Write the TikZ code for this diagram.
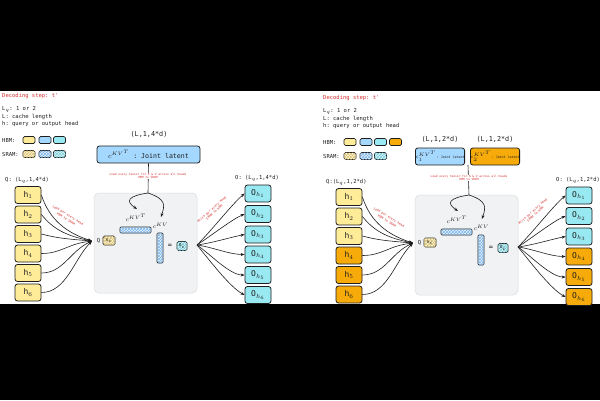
\documentclass[tikz,border=0pt]{standalone}
\usepackage{fontspec}
\setmonofont{DejaVu Sans Mono}
\usetikzlibrary{arrows.meta,patterns}
\definecolor{ink}{HTML}{1E1E1E}
\definecolor{myred}{HTML}{D62F2F}
\definecolor{cyel}{HTML}{FFEC99}
\definecolor{cblue}{HTML}{A5D8FF}
\definecolor{ccyan}{HTML}{99E9F2}
\definecolor{corange}{HTML}{F7AB0A}
\definecolor{cyeld}{HTML}{D9C27A}
\definecolor{cblued}{HTML}{7FB2E5}
\definecolor{ccyand}{HTML}{7CCAD6}
\definecolor{cgray}{HTML}{F1F2F3}
\definecolor{cgrayd}{HTML}{DADCDE}
\tikzset{
 txt/.style={font=\ttfamily\fontsize{5.5}{6.5}\selectfont, text=ink, inner sep=0pt, anchor=west},
 redtxt/.style={txt, text=myred},
 rtiny/.style={font=\ttfamily\fontsize{2.9}{3.5}\selectfont, text=myred, align=center, inner sep=0.6pt},
 hbox/.style={draw=ink, line width=0.8pt, rounded corners=2.5pt, minimum width=26pt, minimum height=17pt, inner sep=0pt, font=\ttfamily\fontsize{8}{8}\selectfont, text=ink},
 leg/.style={draw=ink, line width=0.7pt, rounded corners=1.5pt, minimum width=12pt, minimum height=7pt, inner sep=0pt},
 hatch/.style={postaction={pattern=crosshatch, pattern color=#1}},
 barst/.style={draw=ink, line width=0.7pt, rounded corners=1.2pt, fill=cblue!25, hatch=cblued, inner sep=0pt},
 graybox/.style={fill=cgray, draw=cgrayd, line width=0.5pt, rounded corners=5pt, minimum width=103pt, minimum height=100pt, inner sep=0pt},
 con/.style={draw=ink, line width=0.6pt, -{Stealth[length=4pt,width=3pt]}},
 mlab/.style={font=\fontsize{6}{6}\selectfont, text=ink, inner sep=0pt},
}
\newcommand\panelcore[5]{%
 \node[graybox] (#1gray) at (145.5,243) {};
 \coordinate (#1split) at (148,193);
 \coordinate (#1ta) at (137,209);
 \coordinate (#1tb) at (161,217);
 \draw[con] (#1split) .. controls +(-20,3) and +(-12,-8) .. (#1ta);
 \draw[con] (#1split) .. controls +(18,6) and +(4,-12) .. (#1tb);
 \node[rtiny, fill=white] (#1load) at (148,176) {Load every tensor for K \& V across all heads\\HBM to SRAM};
 \node[barst, minimum width=31pt, minimum height=6pt] (#1bh) at (135.5,230) {};
 \node[barst, minimum width=6pt, minimum height=30pt] (#1bv) at (160,248) {};
 \node[mlab] (#1cla) at (136,218) {$c^{KV^T}$};
 \node[mlab] (#1clb) at (160.5,226) {$c^{KV}$};
 \node[txt, anchor=center] (#1Ql) at (98.5,240.5) {Q};
 \node[leg, minimum width=12pt, minimum height=9pt, fill=cyel!45, hatch=cyeld, font=\ttfamily\fontsize{4}{4}\selectfont] (#1Q) at (109,240.5) {h$_i$};
 \node[txt, anchor=center, font=\ttfamily\fontsize{7}{7}\selectfont] (#1eq) at (170,246) {=};
 \node[leg, minimum width=10pt, minimum height=9pt, fill=ccyan!35, hatch=ccyand, font=\ttfamily\fontsize{4}{4}\selectfont] (#1O) at (182,246) {O$_i$};
 \coordinate (#1qin) at (92,241);
 \coordinate (#1src) at (197,245);
 \node[txt] (#1qlab) at (5,180) {#4};
 \node[txt] (#1olab) at (235,178) {#5};
 \foreach \i/\y/\col in {1/195/cyel,2/214.5/cyel,3/234/cyel,4/253.5/#2,5/273/#2,6/292.5/#2}
   \node[hbox, fill=\col] (#1h\i) at (28,\y) {h$_{\i}$};
 \foreach \i/\y/\col in {1/193.5/ccyan,2/214/ccyan,3/234.5/ccyan,4/254.5/#3,5/275/#3,6/295/#3}
   \node[hbox, fill=\col] (#1o\i) at (258,\y) {O$_{h_{\i}}$};
 \draw[con] (#1h1.east) .. controls +(8,25) and +(-25,-8) .. (#1qin);
 \draw[con] (#1h2.east) .. controls +(12,15) and +(-25,-5) .. (#1qin);
 \draw[con] (#1h3.east) .. controls +(15,4) and +(-25,-2) .. (#1qin);
 \draw[con] (#1h4.east) .. controls +(20,0) and +(-25,3) .. (#1qin);
 \draw[con] (#1h5.east) .. controls +(22,0) and +(-22,10) .. (#1qin);
 \draw[con] (#1h6.east) .. controls +(25,0) and +(-18,18) .. (#1qin);
 \draw[con] (#1src) .. controls +(15,-15) and +(-12,10) .. (#1o1.west);
 \draw[con] (#1src) .. controls +(15,-10) and +(-12,5) .. (#1o2.west);
 \draw[con] (#1src) .. controls +(15,-2) and +(-15,3) .. (#1o3.west);
 \draw[con] (#1src) .. controls +(15,2) and +(-15,0) .. (#1o4.west);
 \draw[con] (#1src) .. controls +(12,8) and +(-15,0) .. (#1o5.west);
 \draw[con] (#1src) .. controls +(10,12) and +(-15,-8) .. (#1o6.west);
 \node[rtiny, rotate=-32, font=\ttfamily\fontsize{3.1}{3.7}\selectfont] (#1rl) at (67,217) {Load per every head\\HBM to SRAM};
 \node[rtiny, rotate=42, font=\ttfamily\fontsize{3.1}{3.7}\selectfont] (#1rr) at (213,211) {Write per every head\\SRAM to HBM};
}
\begin{document}
\begin{tikzpicture}[x=1pt,y=-1pt]
\useasboundingbox (0,0) rectangle (600,400);
\fill[black] (0,0) rectangle (600,400);
\fill[white] (0,91) rectangle (600,304);
% ---------- left panel ----------
\node[redtxt] (Lstep) at (2,96) {Decoding step: t'};
\node[txt] (La) at (2,109) {L$_q$: 1 or 2};
\node[txt] (Lb) at (2,116.5) {L: cache length};
\node[txt] (Lc) at (2,124) {h: query or output head};
\node[txt] (Lhbm) at (2,140) {HBM:};
\node[txt] (Lsram) at (2,154) {SRAM:};
\node[leg, fill=cyel] (Lhy) at (29,140) {};
\node[leg, fill=cblue] (Lhb) at (45,140) {};
\node[leg, fill=ccyan] (Lhc) at (59.5,140) {};
\node[leg, fill=cyel!45, hatch=cyeld] (Lsy) at (29,154) {};
\node[leg, fill=cblue!30, hatch=cblued] (Lsb) at (45,154) {};
\node[leg, fill=ccyan!35, hatch=ccyand] (Lsc) at (59.5,154) {};
\node[txt, anchor=center, font=\ttfamily\fontsize{6.8}{8}\selectfont] (Ldim) at (149,134) {(L,1,4*d)};
\node[hbox, fill=cblue, minimum width=103pt, font=\ttfamily\fontsize{6.6}{8}\selectfont] (Llat) at (148.5,154.5) {$c^{KV^T}$ : Joint latent};
\draw[ink, line width=0.6pt] (Llat.south) -- (148,193);
\panelcore{L}{cyel}{ccyan}{Q: (L$_q$,1,4*d)}{O: (L$_q$,1,4*d)}
% ---------- right panel ----------
\begin{scope}[shift={(321,2)}]
\node[redtxt] (Rstep) at (2,96) {Decoding step: t'};
\node[txt] (Ra) at (2,109) {L$_q$: 1 or 2};
\node[txt] (Rb) at (2,116.5) {L: cache length};
\node[txt] (Rc) at (2,124) {h: query or output head};
\node[txt] (Rhbm) at (2,140) {HBM:};
\node[txt] (Rsram) at (2,154) {SRAM:};
\node[leg, fill=cyel] (Rhy) at (29,140) {};
\node[leg, fill=cblue] (Rhb) at (45,140) {};
\node[leg, fill=ccyan] (Rhc) at (59.5,140) {};
\node[leg, fill=corange] (Rho) at (74.5,140) {};
\node[leg, fill=cyel!45, hatch=cyeld] (Rsy) at (29,154) {};
\node[leg, fill=cblue!30, hatch=cblued] (Rsb) at (45,154) {};
\node[leg, fill=ccyan!35, hatch=ccyand] (Rsc) at (59.5,154) {};
\node[txt, anchor=center, font=\ttfamily\fontsize{6.8}{8}\selectfont] (Rdima) at (119,137) {(L,1,2*d)};
\node[txt, anchor=center, font=\ttfamily\fontsize{6.8}{8}\selectfont] (Rdimb) at (174,137) {(L,1,2*d)};
\node[hbox, fill=cblue, minimum width=48pt, font=\ttfamily\fontsize{3.3}{4}\selectfont] (Rlata) at (119,154.5) {{\fontsize{4.6}{5}\selectfont$c_1^{KV^T}$}\,: Joint latent};
\node[hbox, fill=corange, minimum width=48pt, font=\ttfamily\fontsize{3.3}{4}\selectfont] (Rlatb) at (174,154.5) {{\fontsize{4.6}{5}\selectfont$c_2^{KV^T}$}\,: Joint latent};
\coordinate (Rtop) at (147,163);
\draw[ink, line width=0.6pt] (Rtop) -- (148,193);
\panelcore{R}{corange}{corange}{Q:(L$_q$,1,2*d)}{O: (L$_q$,1,2*d)}
\end{scope}
\end{tikzpicture}
\end{document}
